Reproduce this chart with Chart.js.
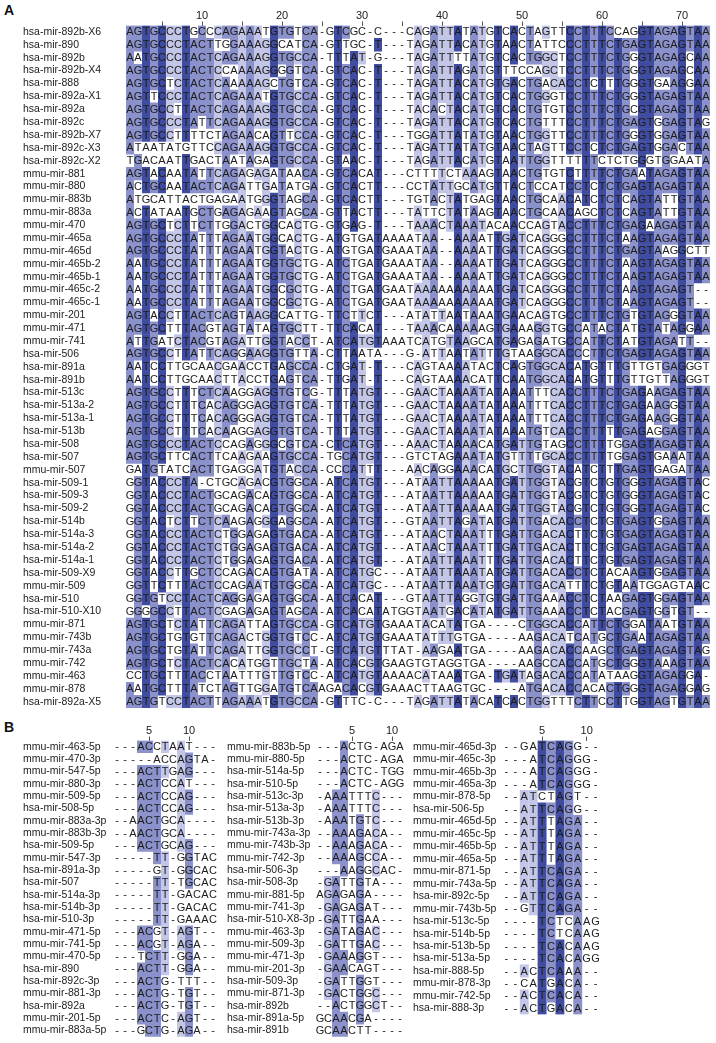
<!DOCTYPE html>
<html lang="en">
<head>
<meta charset="UTF-8">
<title>miR-506 family alignment</title>
<script src="https://cdn.jsdelivr.net/npm/chart.js@4.4.1/dist/chart.umd.min.js"></script>
<style>
  body { margin:0; background:#fff; width:716px; height:1043px; position:relative; overflow:hidden; font-family:"Liberation Sans", Arial, sans-serif; }
  canvas { position:absolute; }
  .panel { position:absolute; font-weight:bold; font-size:14px; color:#111; }
</style>
</head>
<body>

<div class="panel" style="left:4px; top:2px;">A</div>
<div class="panel" style="left:4px; top:719px;">B</div>

<canvas id="chartA" width="716" height="716" style="left:0; top:0;"></canvas>
<canvas id="chartB1" width="220" height="328" style="left:0; top:715px;"></canvas>
<canvas id="chartB2" width="190" height="328" style="left:220px; top:715px;"></canvas>
<canvas id="chartB3" width="306" height="328" style="left:410px; top:715px;"></canvas>

<script>
// ---- panel A : precursor alignment ----
const namesA = [
  'hsa-mir-892b-X6','hsa-mir-890','hsa-mir-892b','hsa-mir-892b-X4','hsa-mir-888','hsa-mir-892a-X1',
  'hsa-mir-892a','hsa-mir-892c','hsa-mir-892b-X7','hsa-mir-892c-X3','hsa-mir-892c-X2','mmu-mir-881',
  'mmu-mir-880','mmu-mir-883b','mmu-mir-883a','mmu-mir-470','mmu-mir-465a','mmu-mir-465d',
  'mmu-mir-465b-2','mmu-mir-465b-1','mmu-mir-465c-2','mmu-mir-465c-1','mmu-mir-201','mmu-mir-471',
  'mmu-mir-741','hsa-mir-506','hsa-mir-891a','hsa-mir-891b','hsa-mir-513c','hsa-mir-513a-2',
  'hsa-mir-513a-1','hsa-mir-513b','hsa-mir-508','hsa-mir-507','mmu-mir-507','hsa-mir-509-1',
  'hsa-mir-509-3','hsa-mir-509-2','hsa-mir-514b','hsa-mir-514a-3','hsa-mir-514a-2','hsa-mir-514a-1',
  'hsa-mir-509-X9','mmu-mir-509','hsa-mir-510','hsa-mir-510-X10','mmu-mir-871','mmu-mir-743b',
  'mmu-mir-743a','mmu-mir-742','mmu-mir-463','mmu-mir-878','hsa-mir-892a-X5'
];
const seqsA = [
  'AGTGCCCTGCCCAGAAATGTGTCA-GTCGC-C---CAGATTATATGTCACTAGTTCCTTTCCAGGTAGAGTAA',
  'AGTGCCCTACTTGGAAAGGCATCA-GTTGC-T---TAGATTACATGTAACTATTCCCTTTCTGAGTAGAGTAA',
  'AATGCCCTACTCAGAAAGGTGCCA-TTTAT-G---TAGATTTTATGTCACTGGCTCCTTTCTGGGTAGAGCAA',
  'AGTGCCCTACTCCAAAAGGGGTCA-GTCAC-T---TAGATTAGATGTTTCCAGCTCCTTTCTGGGTAGAGCAA',
  'AGTGCTCTACTCAAAAAGCTGTCA-GTCAC-T---TAGATTACATGTGACTGACACCTCTTTGGGTGAAGGAA',
  'AGTTCCCTACTCAGAAATGTGCCA-GTCAC-T---TAGATTACATGTCACTGGGTCCTTTCTGGGTAGAGTAA',
  'AGTGCCTTACTCAGAAAGGTGCCA-GTCAC-T---TACACTACATGTCACTGTGTCCTTTCTGCGTAGAGTAA',
  'AGTGCCCTATTCAGAAAGGTGCCA-GTCAC-T---TAGATTACATGTCACTGTTTCCTTTCTGAGTGGAGTAG',
  'AGTGCCTTTTCTAGAACAGTTCCA-GTCAC-T---TGGATTATATGTAACTGGTTCCTTTCTGGGTGGAGTAA',
  'ATAATATGTTCCAGAAAGGTGCCA-GTCAC-T---TAGATTATATGTAACTAGTTCCTCTCTGAGTGGACTAA',
  'TGACAATTGACTAATAGAGTGCCA-GTAAC-T---TAGATTACATGTAATTGGTTTTTTCTCTGGGTGGAATA',
  'AGTACAATATTCAGAGAGATAACA-GTCACAT---CTTTTCTAAAGTAACTGTGTCTTTTCTGAATAGAGTAA',
  'ACTGCAATACTCAGATTGATATGA-GTCACTT---CCTATTGCATGTTACTCCATCCTCTCTGAGTAGAGTAA',
  'ATGCATTACTGAGAATGGGTAGCA-GTCACTT---TGTACTATGAGTAACTGCAACATCTCTCAGTATTGTAA',
  'ACTATAATGCTGAGAGAAGTAGCA-GTTACTT---TATTCTATAAGTAACTGCAACAGCTCTCAGTATTGTAA',
  'AGTGCTCTTCTTGGACTGGCACTG-GTGAG-T---TAAACTAAATACAACCAGTACCTTTCTGAGAAGAGTAA',
  'AGTGCCCTATTTAGAATGGCACTG-ATGTGATAAAATAA--AAAATTGATCAGGGCCTTTCTAAGTAGAGTAA',
  'AGTGCCCTATTTAGAATGGTACTG-ATGTGATGAAATAA--AAAATTGATCAGGGCCTTTCTGAGTAAGGCTT',
  'AATGCCCTATTTAGAATGGTGCTG-ATCTGATGAAATAA--AAAATTGATCAGGGCCTTTCTAAGTAGAGTAA',
  'AATGCCCTATTTAGAATGGTGCTG-ATCTGATGAAATAA--AAAATTGATCAGGGCCTTTCTAAGTAGAGTAA',
  'AATGCCCTATTTAGAATGGCGCTG-ATCTGATGAATAAAAAAAAAATGATCAGGGCCTTTCTAAGTAGAGT--',
  'AATGCCCTATTTAGAATGGCGCTG-ATCTGATGAATAAAAAAAAAATGATCAGGGCCTTTCTAAGTAGAGT--',
  'AGTACCTTACTCAGTAAGGCATTG-TTCTTCT---ATATTAATAAATGAACAGTGCCTTTCTGTGTAGGGTAA',
  'AGTGCTTTACGTAGTATAGTGCTT-TTCACAT---TAAACAAAAAGTGAAAGGTGCCATACTATGTATAGGAA',
  'ATTGATCTACGTAGATTGGTACCT-ATCATGTAAATCATGTAAGCATGAGAGATGCCATTCTATGTAGATT--',
  'AGTGCCTTATTCAGGAAGGTGTTA-CTTAATA---G-ATTAATATTTGTAAGGCACCCTTCTGAGTAGAGTAA',
  'AATCCTTGCAACGAACCTGAGCCA-CTGAT-T---CAGTAAAATACTCAGTGGCACATGTTTGTTGTGAGGGT',
  'AATCCTTGCAACTTACCTGAGTCA-TTGAT-T---CAGTAAAACATTCAATGGCACATGTTTGTTGTTAGGGT',
  'AGTGCCTTTCTCAAGGAGGTGTCG-TTTATGT---GAACTAAAATATAAATTTCACCTTTCTGAGAAGAGTAA',
  'AGTGCCTTTCACAGGGAGGTGTCA-TTTATGT---GAACTAAAATATAAATTTCACCTTTCTGAGAAGGGTAA',
  'AGTGCCTTTCACAGGGAGGTGTCA-TTTATGT---GAACTAAAATATAAATTTCACCTTTCTGAGAAGGGTAA',
  'AGTGCCTTTCACAAGGAGGTGTCA-TTTATGT---GAACTAAAATATAAATGTCACCTTTTTGAGAGGAGTAA',
  'AGTGCCCTACTCCAGAGGGCGTCA-CTCATGT---AAACTAAAACATGATTGTAGCCTTTTGGAGTAGAGTAA',
  'AGTGCTTCACTTCAAGAAGTGCCA-TGCATGT---GTCTAGAAATATGTTTTGCACCTTTTGGAGTGAAATAA',
  'GATGTATCACTTGAGGATGTACCA-CCCATTT---AACAGGAAACATGCTTGGTACATCTTTGAGTGAGATAA',
  'GGTACCCTA-CTGCAGACGTGGCA-ATCATGT---ATAATTAAAAATGATTGGTACGTCTGTGGGTAGAGTAC',
  'GGTACCCTACTGCAGACAGTGGCA-ATCATGT---ATAATTAAAAATGATTGGTACGTCTGTGGGTAGAGTAC',
  'GGTACCCTACTGCAGACAGTGGCA-ATCATGT---ATAATTAAAAATGATTGGTACGTCTGTGGGTAGAGTAC',
  'GGTACTCTTCTCAAGAGGGAGGCA-ATCATGT---GTAATTAGATATGATTGACACCTCTGTGAGTGGAGTAA',
  'GGTACCCTACTCTGGAGAGTGACA-ATCATGT---ATAACTAAATTTGATTGACACTTCTGTGAGTAGAGTAA',
  'GGTACCCTACTCTGGAGAGTGACA-ATCATGT---ATAACTAAATTTGATTGACACTTCTGTGAGTAGAGTAA',
  'GGTACCCTACTCTGGAGAGTGACA-ATCATGT---ATAATTAAATTTGATTGACACTTCTGTGAGTAGAGTAA',
  'GGTACCTTGCTCCAGACAGTGATA-ATCATGC---ATAATTAAATATGATTGACACCTCTACAAGTGGAGTAA',
  'GGTTCTTTACTCCAGAATGTGGCA-ATCATGC---ATAATTAAATGTGATTGACATTTCTGTAATGGAGTAAC',
  'GGTGTCCTACTCAGGAGAGTGGCA-ATCACAT---GTAATTAGGTGTGATTGAAACCTCTAAGAGTGGAGTAA',
  'GGGGCCTTACTCGAGAGAGTAGCA-ATCACATATGGTAATGACATATGATTGAAACCTCTACGAGTGGTGT--',
  'AGTGCTCTATTCAGATTAGTGCCA-GTCATGTGAAATACATATGA----CTGGCACCATTCTGGATAATGTAA',
  'AGTGCTGTGTTCAGACTGGTGTCC-ATCATGTGAAATATTTGTGA----AAGACATCATGCTGAATAGAGTAA',
  'AGTGCTGTATTCAGATTGGTGCCT-GTCATGTTTAT-AAGAATGA----AAGACACCAAGCTGAGTAGAGTAG',
  'AGTGCTCTACTCACATGGTTGCTA-ATCACGTGAAGTGTAGGTGA----AAGCCACCATGCTGGGTAAAGTAA',
  'CCTGCTTTACCTAATTTGTTGTCC-ATCATGTAAAACATAAATGA-TGATAGACACCATATAAGGTAGAGGA-',
  'AATGCTTTATCTAGTTGGATGTCAAGACACGTGAAACTTAAGTGC----ATGACACCACACTGGGTAGAGGAG',
  'AGTGTCCTACTTAGAAATGTGCCA-GTTTC-C---TAGATTATACATCACTGGTTTCTTCCTTGGTAGTGTAA'
];
const ticksA = [10, 20, 30, 40, 50, 60, 70];

// ---- panel B : mature sequences, three blocks ----
const namesB1 = [
  'mmu-mir-463-5p','mmu-mir-470-3p','mmu-mir-547-5p','mmu-mir-880-3p','mmu-mir-509-5p','hsa-mir-508-5p',
  'mmu-mir-883a-3p','mmu-mir-883b-3p','hsa-mir-509-5p','mmu-mir-547-3p','hsa-mir-891a-3p','hsa-mir-507',
  'hsa-mir-514a-3p','hsa-mir-514b-3p','hsa-mir-510-3p','mmu-mir-471-5p','mmu-mir-741-5p','mmu-mir-470-5p',
  'hsa-mir-890','hsa-mir-892c-3p','mmu-mir-881-3p','hsa-mir-892a','mmu-mir-201-5p','mmu-mir-883a-5p'
];
const seqsB1 = [
  '---ACCTAAT---','-----ACCAGTA-','---ACTTGAG---','---ACTCCAT---','---ACTCCAG---','---ACTCCAG---',
  '--AACTGCA----','--AACTGCA----','---ACTGCAG---','-----TT-GGTAC','-----GT-GGCAC','-----TT-TGCAC',
  '-----TT-GACAC','-----TT-GACAC','-----TT-GAAAC','---ACGT-AGT--','---ACGT-AGA--','---TCTT-GGA--',
  '---ACTT-GGA--','---ACTG-TTT--','---ACTG-TGT--','---ACTG-TGT--','---ACTC-AGT--','---GCTG-AGA--'
];
const namesB2 = [
  'mmu-mir-883b-5p','mmu-mir-880-5p','hsa-mir-514a-5p','hsa-mir-510-5p','hsa-mir-513c-3p','hsa-mir-513a-3p',
  'hsa-mir-513b-3p','mmu-mir-743a-3p','mmu-mir-743b-3p','mmu-mir-742-3p','hsa-mir-506-3p','hsa-mir-508-3p',
  'mmu-mir-881-5p','mmu-mir-741-3p','hsa-mir-510-X8-3p','mmu-mir-463-3p','mmu-mir-509-3p','mmu-mir-471-3p',
  'mmu-mir-201-3p','hsa-mir-509-3p','mmu-mir-871-3p','hsa-mir-892b','hsa-mir-891a-5p','hsa-mir-891b'
];
const seqsB2 = [
  '---ACTG-AGA','---ACTC-AGA','---ACTC-TGG','---ACTC-AGG','-AAATTTC---','-AAATTTC---',
  '-AAATGTC---','--AAAGACA--','--AAAGACA--','--AAAGCCA--','---AAGGCAC-','-GATTGTA---',
  'AGAGAGA----','-GAGAGAT---','-GATTGAA---','-GATAGAC---','-GATTGAC---','-GAAAGGT---',
  '-GAACAGT---','-GATTGGT---','-GACTGGC---','--ACTGGCT--','GCAACGA----','GCAACTT----'
];
const namesB3 = [
  'mmu-mir-465d-3p','mmu-mir-465c-3p','mmu-mir-465b-3p','mmu-mir-465a-3p','mmu-mir-878-5p','hsa-mir-506-5p',
  'mmu-mir-465d-5p','mmu-mir-465c-5p','mmu-mir-465b-5p','mmu-mir-465a-5p','mmu-mir-871-5p','mmu-mir-743a-5p',
  'hsa-mir-892c-5p','mmu-mir-743b-5p','hsa-mir-513c-5p','hsa-mir-514b-5p','hsa-mir-513b-5p','hsa-mir-513a-5p',
  'hsa-mir-888-5p','mmu-mir-878-3p','mmu-mir-742-5p','hsa-mir-888-3p'
];
const seqsB3 = [
  '--GATCAGG--','---ATCAGGG-','---ATCAGGG-','---ATCAGGG-','--ATCTAGT--','--ATTCAGG--',
  '--ATTTAGA--','--ATTTAGA--','--ATTTAGA--','--ATTTAGA--','--ATTCAGA--','--ATTCAGA--',
  '--ATTCAGA--','--GTTCAGA--','----TCTCAAG','----TCTCAAG','----TCACAAG','----TCACAGG',
  '--ACTCAAA--','--CATGACA--','--ACTCACA--','--ACTGACA--'
];
const ticksB = [5, 10];

// percent identity shading: >80, >60, >40 % of the column agreeing with the consensus
const shades = ['#ffffff', '#c3c6e6', '#8a91cb', '#3f4ca0'];
const FONT = '"Liberation Sans", Arial, sans-serif';

function identityLevels(seqs) {
  const n = seqs.length;
  const ncol = Math.max(...seqs.map(s => s.length));
  const lv = seqs.map(() => []);
  for (let c = 0; c < ncol; c++) {
    const count = {};
    seqs.forEach(s => { const ch = s[c]; if (ch && ch !== '-') count[ch] = (count[ch] || 0) + 1; });
    let cons = null, best = 0;
    for (const k in count) if (count[k] > best) { best = count[k]; cons = k; }
    const pct = best / n * 100;
    const level = pct > 80 ? 3 : pct > 60 ? 2 : pct > 40 ? 1 : 0;
    seqs.forEach((s, r) => { lv[r][c] = (s[c] === cons) ? level : 0; });
  }
  return lv;
}

// one floating bar per shaded cell, placed on the row's category label
function cellData(names, seqs) {
  const lv = identityLevels(seqs);
  const out = [];
  seqs.forEach((s, r) => {
    for (let c = 0; c < s.length; c++) {
      if (lv[r][c] > 0) out.push({ x: [c + 0.5, c + 1.5], y: names[r], lvl: lv[r][c] });
    }
  });
  return out;
}

// residues written on top of the shaded cells
const letters = {
  id: 'letters',
  afterDatasetsDraw(chart, args, opts) {
    const ctx = chart.ctx, xs = chart.scales.x, ys = chart.scales.y;
    ctx.save();
    ctx.font = '11px ' + FONT;
    ctx.fillStyle = '#1c1c1c';
    ctx.textAlign = 'center';
    ctx.textBaseline = 'middle';
    opts.seqs.forEach((s, r) => {
      const y = ys.getPixelForValue(r) + 0.5;
      for (let c = 0; c < s.length; c++) ctx.fillText(s[c], xs.getPixelForValue(c + 1), y);
    });
    ctx.restore();
  }
};

function drawAlignment(id, names, seqs, tickLabels, box) {
  const ncol = Math.max(...seqs.map(s => s.length));
  return new Chart(document.getElementById(id), {
    type: 'bar',
    data: {
      labels: names,
      datasets: [{
        data: cellData(names, seqs),
        backgroundColor: c => shades[c.raw ? c.raw.lvl : 0],
        borderWidth: 0,
        grouped: false,
        categoryPercentage: 1,
        barPercentage: 1.04
      }]
    },
    options: {
      indexAxis: 'y',
      responsive: false,
      animation: false,
      layout: { padding: { left: box.left, right: box.right, top: 0, bottom: box.bottom } },
      plugins: { legend: { display: false }, tooltip: { enabled: false }, letters: { seqs: seqs } },
      scales: {
        x: {
          type: 'linear', position: 'top', min: 0.5, max: ncol + 0.5,
          afterFit: s => { s.height = 25.5; },
          grid: { drawOnChartArea: false, drawTicks: true, tickLength: 4, color: '#555' },
          border: { display: false },
          ticks: {
            stepSize: 5, includeBounds: false, autoSkip: false, maxRotation: 0, padding: 0,
            color: '#222', font: { size: 11, lineHeight: 1, family: FONT },
            callback: v => tickLabels.includes(v) ? String(v) : ''
          }
        },
        y: {
          type: 'category', position: 'left',
          afterFit: s => { s.width = box.axis; },
          grid: { display: false },
          border: { display: false },
          ticks: { crossAlign: 'far', autoSkip: false, padding: 0, color: '#222', font: { size: 10.5, family: FONT } }
        }
      }
    },
    plugins: [letters]
  });
}

drawAlignment('chartA', namesA, seqsA, ticksA, { left: 23, axis: 103, right: 6, bottom: 7.9 });
drawAlignment('chartB1', namesB1, seqsB1, ticksB, { left: 23, axis: 90, right: 3, bottom: 3.5 });
drawAlignment('chartB2', namesB2, seqsB2, ticksB, { left: 7, axis: 89, right: 6, bottom: 3.5 });
drawAlignment('chartB3', namesB3, seqsB3, ticksB, { left: 3, axis: 89, right: 116, bottom: 28.4 });
</script>
</body>
</html>
